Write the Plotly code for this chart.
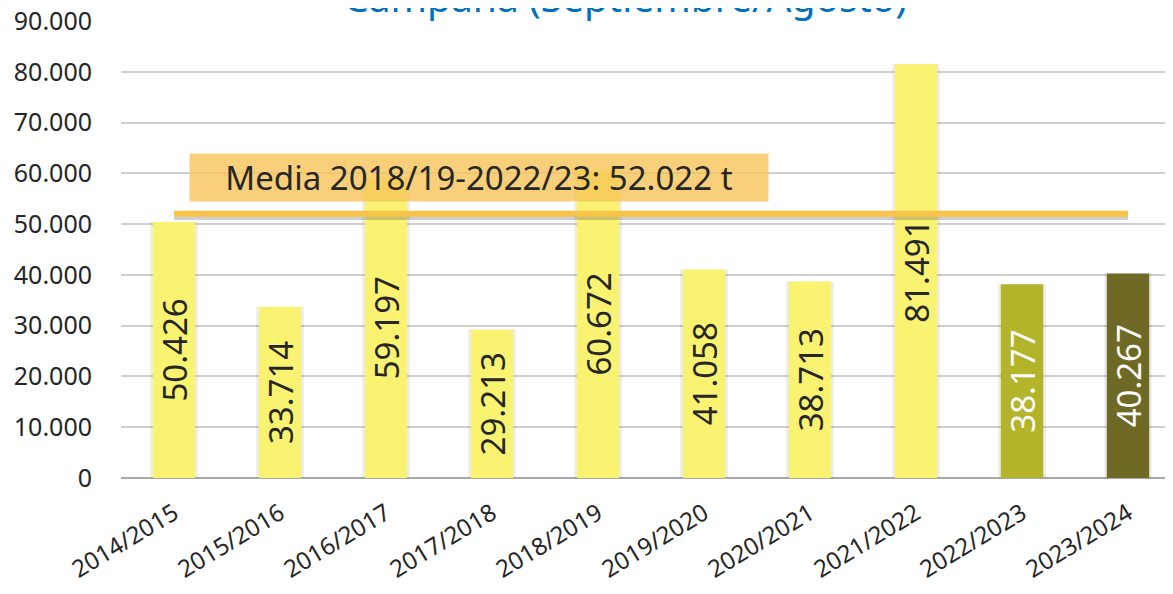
import plotly.graph_objects as go

campaigns = ["2014/2015", "2015/2016", "2016/2017", "2017/2018", "2018/2019",
             "2019/2020", "2020/2021", "2021/2022", "2022/2023", "2023/2024"]
values = [50426, 33714, 59197, 29213, 60672, 41058, 38713, 81491, 38177, 40267]
bar_colors = ["#FAF372"] * 8 + ["#B4B42A", "#6E6A25"]
label_colors = ["#262626"] * 8 + ["#FFFFFF", "#FFFFFF"]
mean_value = 52022
mean_label = "Media 2018/19-2022/23: 52.022 t"
title_text = "Campaña (Septiembre/Agosto)"
y_ticks = [0, 10000, 20000, 30000, 40000, 50000, 60000, 70000, 80000, 90000]

FONT = "Noto Sans"
SHADOW_OFFSET = 600  # visual offset for line shadow (in y units, ~3 px)

fig = go.Figure()
# soft shadow around bars
fig.add_trace(go.Bar(
    x=campaigns, y=values, width=0.45,
    marker=dict(color="rgba(0,0,0,0.07)", line=dict(width=0)),
    hoverinfo="skip", showlegend=False,
))
fig.add_trace(go.Bar(
    x=campaigns, y=values, width=0.40,
    marker=dict(color=bar_colors, line=dict(width=0)),
    text=[f"{v:,}".replace(",", ".") for v in values],
    textposition="inside", textangle=-90, insidetextanchor="middle",
    constraintext="none",
    textfont=dict(family=FONT, size=33, color=label_colors),
    showlegend=False,
))
fig.update_layout(barmode="overlay")

# mean line with shadow
fig.add_shape(type="line", xref="x", yref="y", x0=0, x1=9,
              y0=mean_value - SHADOW_OFFSET, y1=mean_value - SHADOW_OFFSET,
              line=dict(color="rgba(90,90,90,0.30)", width=6), layer="above")
fig.add_shape(type="line", xref="x", yref="y", x0=0, x1=9,
              y0=mean_value, y1=mean_value,
              line=dict(color="#F9C349", width=6), layer="above")

# mean label box
fig.add_annotation(
    xref="paper", yref="paper", x=(189 - 121) / 1060, y=(478 - 177.5) / 457,
    xanchor="left", yanchor="middle", text=mean_label, showarrow=False,
    font=dict(family=FONT, size=33, color="#262626"),
    bgcolor="rgba(248,196,88,0.80)", borderpad=4, width=570, height=39,
    align="center",
)

# title (cut off at top)
fig.add_annotation(
    xref="paper", yref="paper", x=(625 - 121) / 1060, y=1, yanchor="bottom",
    yshift=-4, text=title_text, showarrow=False,
    font=dict(family=FONT, size=39, color="#0070C0"),
)

# page body has an 8px default margin: compensate so the plot lands where the reference has it
fig.update_layout(
    width=1173, height=594,
    margin=dict(l=113, r=0, t=13, b=124, autoexpand=False),
    paper_bgcolor="white", plot_bgcolor="white",
    separators=",.",
    xaxis=dict(
        range=[-0.5, 9.5], tickangle=-31, automargin=False,
        tickfont=dict(family=FONT, size=24, color="#262626"),
        showgrid=False, showline=False, ticks="", ticklabelstandoff=16,
    ),
    yaxis=dict(
        range=[0, 90000], tickvals=y_ticks, tickformat=",d", automargin=False,
        tickfont=dict(family=FONT, size=25, color="#262626"),
        gridcolor="#D0D0D0", gridwidth=2,
        zeroline=True, zerolinecolor="#A8A8A8", zerolinewidth=2,
        showline=False, ticklabelstandoff=28, ticklabeloverflow="allow",
    ),
)

fig.write_html("out.html")
